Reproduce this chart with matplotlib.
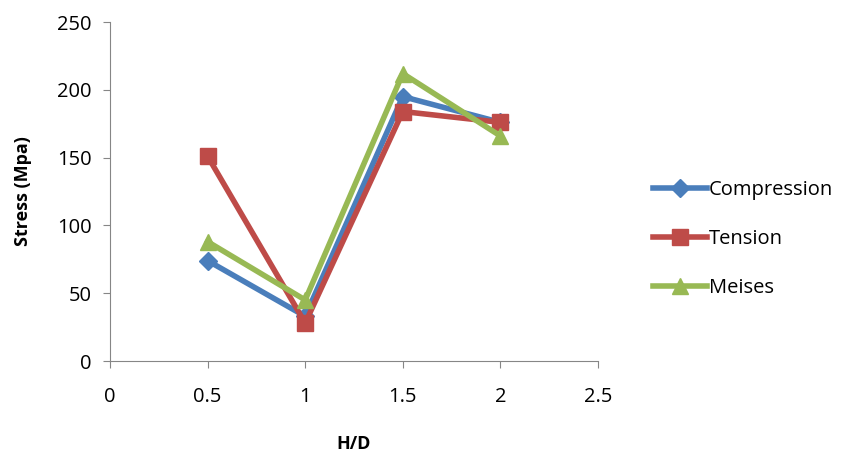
import matplotlib
matplotlib.use('Agg')
import matplotlib.pyplot as plt

# data
hd = [0.5, 1, 1.5, 2]
compression = [74, 33, 195, 176]
tension = [151, 28, 184, 176]
meises = [88, 45, 212, 166]

plt.rcParams['font.family'] = ['Open Sans', 'DejaVu Sans']

fig = plt.figure(figsize=(8.53, 4.59), dpi=100)
ax = fig.add_axes([0.129, 0.2135, 0.572, 0.7385])

ax.plot(hd, compression, color='#4a7ebb', lw=4, marker='D', ms=9, label='Compression')
ax.plot(hd, tension, color='#be4b48', lw=4, marker='s', ms=12, label='Tension')
ax.plot(hd, meises, color='#98b954', lw=4, marker='^', ms=12, label='Meises')

ax.set_xlim(0, 2.5)
ax.set_ylim(0, 250)
ax.set_xticks([0, 0.5, 1, 1.5, 2, 2.5])
ax.set_xticklabels(['0', '0.5', '1', '1.5', '2', '2.5'])
ax.set_yticks([0, 50, 100, 150, 200, 250])
ax.tick_params(labelsize=14.5, color='#868686', direction='out', length=5)
ax.tick_params(axis='x', pad=14)
ax.tick_params(axis='y', pad=8)
for s in ['top', 'right']:
    ax.spines[s].set_visible(False)
for s in ['left', 'bottom']:
    ax.spines[s].set_color('#868686')

ax.set_xlabel('H/D', fontsize=13, fontweight='bold', labelpad=20)
ax.set_ylabel('Stress (Mpa)', fontsize=13, fontweight='bold', labelpad=18)

ax.legend(loc='center left', bbox_to_anchor=(1.075, 0.36), frameon=False, fontsize=14.5,
          handlelength=2.7, handletextpad=0.1, labelspacing=1.45)

fig.savefig('out.png', dpi=100)
